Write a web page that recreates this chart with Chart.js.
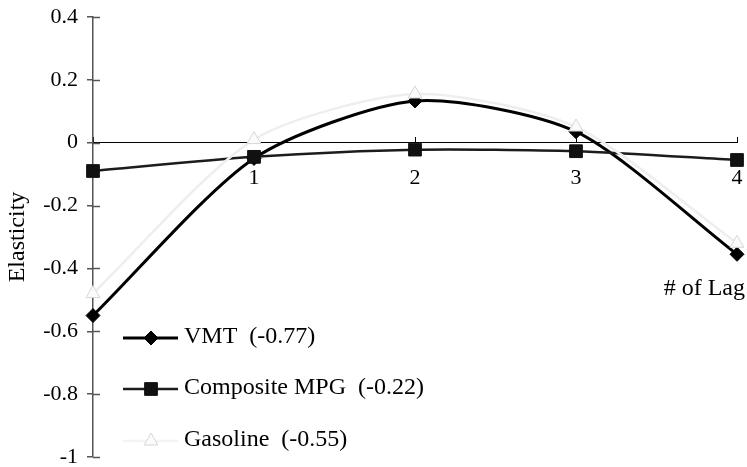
<!DOCTYPE html>
<html>
<head>
<meta charset="utf-8">
<script src="https://cdn.jsdelivr.net/npm/chart.js@4.4.1/dist/chart.umd.min.js"></script>
<style>
  html, body { margin: 0; padding: 0; background: #fff; }
  #wrap { width: 747px; height: 467px; position: relative; }
</style>
</head>
<body>
<div id="wrap"><canvas id="c"></canvas></div>
<script>
// Lag structure of elasticities
const lags = ['0', '1', '2', '3', '4'];
const lagTickLabels = ['', '1', '2', '3', '4'];
const vmt = [-0.55, -0.05, 0.133, 0.035, -0.355];
const compositeMpg = [-0.09, -0.045, -0.022, -0.027, -0.055];
const gasoline = [-0.48, 0.01, 0.155, 0.05, -0.32];
const seriesNames = ['VMT  (-0.77)', 'Composite MPG  (-0.22)', 'Gasoline  (-0.55)'];
const yMin = -1, yMax = 0.4, yStep = 0.2;
const yTitle = 'Elasticity';
const xTitle = '# of Lag';

const FONT = "'Liberation Serif', 'Times New Roman', serif";
const AXIS_GRAY = '#555';

// short inner half of each y tick mark (ticks cross the axis)
const innerTicks = {
  id: 'innerTicks',
  afterDraw(chart) {
    const y = chart.scales.y;
    const ctx = chart.ctx;
    const x0 = chart.chartArea.left;
    ctx.save();
    ctx.strokeStyle = AXIS_GRAY;
    ctx.lineWidth = 1.5;
    y.ticks.forEach(t => {
      const py = Math.round(y.getPixelForValue(t.value)) + 0.5;
      ctx.beginPath();
      ctx.moveTo(x0, py);
      ctx.lineTo(x0 + 7, py);
      ctx.stroke();
    });
    ctx.restore();
  }
};

// x title placed at the right end, below the zero axis; legend in the lower left
const annotations = {
  id: 'annotations',
  afterDraw(chart) {
    const ctx = chart.ctx;
    ctx.save();
    ctx.fillStyle = '#000';
    ctx.font = '24px ' + FONT;
    ctx.textAlign = 'right';
    ctx.textBaseline = 'middle';
    ctx.fillText(xTitle, 745, 289);

    const rows = [337, 388, 440];
    chart.data.datasets.forEach((ds, i) => {
      const yy = rows[i];
      ctx.save();
      ctx.strokeStyle = ds.legendLine || ds.borderColor;
      ctx.lineWidth = ds.borderWidth;
      ctx.beginPath();
      ctx.moveTo(123, yy + 1);
      ctx.lineTo(178, yy + 1);
      ctx.stroke();
      ctx.fillStyle = ds.pointBackgroundColor;
      ctx.strokeStyle = ds.pointBorderColor;
      ctx.lineWidth = ds.pointBorderWidth;
      Chart.helpers.drawPoint(ctx, {
        pointStyle: ds.pointStyle,
        radius: ds.pointRadius,
        rotation: 0,
        borderWidth: ds.pointBorderWidth
      }, 151, yy + 1);
      ctx.restore();
      ctx.fillStyle = '#000';
      ctx.font = '24px ' + FONT;
      ctx.textAlign = 'left';
      ctx.textBaseline = 'middle';
      ctx.fillText(ds.label, 184, yy);
    });
    ctx.restore();
  }
};

new Chart(document.getElementById('c'), {
  type: 'line',
  data: {
    labels: lags,
    datasets: [
      {
        label: seriesNames[0],
        data: vmt,
        borderColor: '#000',
        borderWidth: 3,
        pointStyle: 'rectRot',
        pointRadius: 7,
        pointBackgroundColor: '#000',
        pointBorderColor: '#000',
        pointBorderWidth: 1,
        tension: 0.25,
        clip: false,
        order: 2
      },
      {
        label: seriesNames[1],
        data: compositeMpg,
        borderColor: '#1c1c1c',
        borderWidth: 2.5,
        pointStyle: 'rect',
        pointRadius: 9,
        pointBackgroundColor: '#111',
        pointBorderColor: '#111',
        pointBorderWidth: 1,
        tension: 0.25,
        clip: false,
        order: 1
      },
      {
        label: seriesNames[2],
        data: gasoline,
        borderColor: '#eeeeee',
        legendLine: '#f4f4f4',
        borderWidth: 2.5,
        pointStyle: 'triangle',
        pointRadius: 8,
        pointBackgroundColor: '#fbfbfb',
        pointBorderColor: '#d6d6d6',
        pointBorderWidth: 1,
        tension: 0.25,
        clip: false,
        order: 0
      }
    ]
  },
  options: {
    responsive: true,
    maintainAspectRatio: false,
    animation: false,
    events: [],
    layout: { padding: { left: 0, right: 8, top: 17, bottom: 6 } },
    plugins: {
      legend: { display: false },
      tooltip: { enabled: false }
    },
    scales: {
      x: {
        type: 'category',
        position: { y: 0 },
        afterFit(s) { s.height = 0; s.paddingLeft = 0; s.paddingRight = 0; },
        grid: {
          drawOnChartArea: false,
          color: '#000',
          tickLength: -6,
          lineWidth: 1
        },
        border: { color: '#000', width: 1 },
        ticks: {
          autoSkip: false,
          maxRotation: 0,
          padding: 28,
          color: '#000',
          font: { family: FONT, size: 22 },
          callback: (v, i) => lagTickLabels[i]
        }
      },
      y: {
        min: yMin,
        max: yMax,
        afterFit(s) { s.width = 93; s.paddingTop = 0; s.paddingBottom = 0; },
        grid: {
          drawOnChartArea: false,
          color: AXIS_GRAY,
          tickLength: 6,
          lineWidth: 1.5
        },
        border: { color: AXIS_GRAY, width: 1.5 },
        ticks: {
          stepSize: yStep,
          padding: 9,
          color: '#000',
          font: { family: FONT, size: 22 },
          callback: v => String(Number(v.toFixed(1)))
        },
        title: {
          display: true,
          text: yTitle,
          color: '#000',
          padding: { top: 3, bottom: 0 },
          font: { family: FONT, size: 24 }
        }
      }
    }
  },
  plugins: [innerTicks, annotations]
});
</script>
</body>
</html>
